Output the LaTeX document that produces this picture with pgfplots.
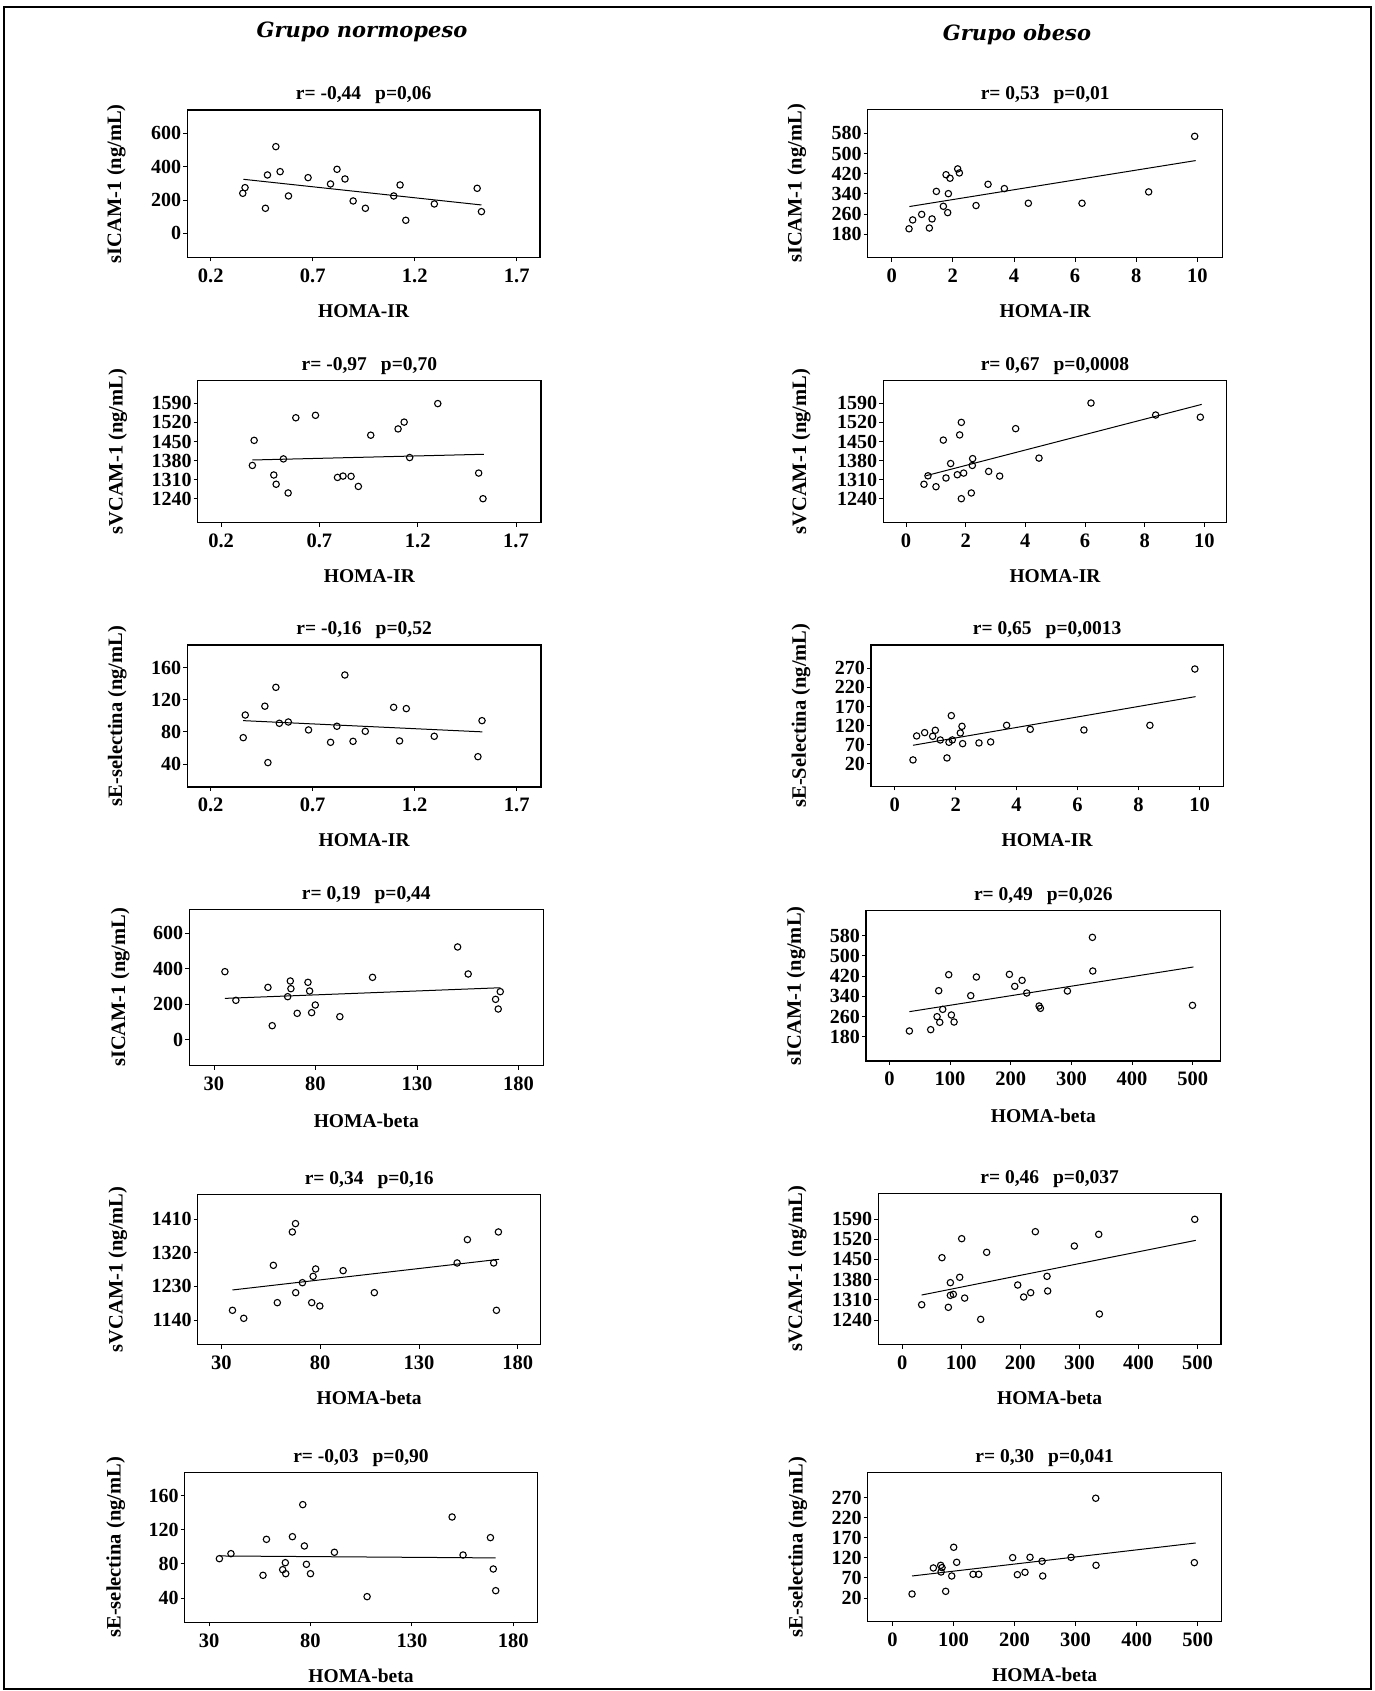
\documentclass[border=0pt]{standalone}
\usepackage{fontspec}
\setmainfont{Liberation Serif}
\newfontfamily\headfont{DejaVu Serif}
\usepackage{pgfplots}
\pgfplotsset{compat=1.18}
\pgfplotsset{
  panel/.style={
    scale only axis, anchor=south west,
    axis line style={line width=1.1pt},
    tick align=outside, xtick pos=bottom, ytick pos=left,
    major tick length=4pt, tick style={line width=0.9pt, black},
    /pgf/number format/assume math mode=true,
    /pgf/number format/1000 sep={},
    tick label style={font=\fontsize{20}{22}\selectfont\bfseries},
    xticklabel style={anchor=base, inner sep=0pt, yshift=-21pt, font=\fontsize{20.5}{22}\selectfont\bfseries},
    yticklabel style={anchor=east, inner sep=0pt, xshift=-2pt},
    title style={font=\fontsize{19.5}{21}\selectfont\bfseries, at={(axis description cs:0.5,1)}, anchor=base, inner sep=0pt, yshift=4pt},
    xlabel style={font=\fontsize{19.5}{21}\selectfont\bfseries, at={(axis description cs:0.5,0)}, anchor=base, inner sep=0pt, yshift=-60pt},
    ylabel style={font=\fontsize{20.5}{22}\selectfont\bfseries, anchor=center, inner sep=0pt},
  },
  yl/.style={ylabel style={at={([xshift=-#1pt]axis description cs:0,0.5)}}},
  pts/.style={only marks, mark=o, mark size=3.2pt, mark options={line width=1.1pt, black}},
  fit/.style={no marks, black, line width=1pt},
}
\newcommand{\rp}[2]{r= #1\hspace{14pt}p=#2}
\begin{document}
\begin{tikzpicture}
\useasboundingbox (0pt,0pt) rectangle (1375pt,1691pt);
\draw[line width=1.5pt] (4pt,2pt) rectangle (1371pt,1684pt);
\node[font=\fontsize{21}{24}\selectfont\headfont\bfseries\itshape] at (362pt,1659pt) {Grupo normopeso};
\node[font=\fontsize{21}{24}\selectfont\headfont\bfseries\itshape] at (1017pt,1656pt) {Grupo obeso};

% P1
\begin{axis}[panel, yl=71, at={(187.3pt,1433.7pt)}, width=352.7pt, height=147.3pt,
  xmin=0.085, xmax=1.814, ymin=-144, ymax=740,
  xtick={0.2,0.7,1.2,1.7}, ytick={0,200,400,600},
  title={\rp{-0,44}{0,06}}, xlabel={HOMA-IR}, ylabel={sICAM-1 (ng/mL)}]
\addplot[pts] coordinates {(0.357,240)(0.368,274)(0.468,150)(0.478,350)(0.519,520)(0.540,370)(0.581,224)(0.677,334)(0.787,296)(0.819,384)(0.858,326)(0.898,194)(0.958,150)(1.097,224)(1.128,290)(1.156,78)(1.296,176)(1.506,270)(1.527,130)};
\addplot[fit] coordinates {(0.36,324)(1.527,170)};
\end{axis}

% P2
\begin{axis}[panel, yl=71, at={(867.7pt,1433.3pt)}, width=355pt, height=148.4pt,
  xmin=-0.785, xmax=10.83, ymin=87.6, ymax=675,
  xtick={0,2,4,6,8,10}, ytick={180,260,340,420,500,580},
  title={\rp{0,53}{0,01}}, xlabel={HOMA-IR}, ylabel={sICAM-1 (ng/mL)}]
\addplot[pts] coordinates {(0.567,202)(0.687,237)(0.981,259)(1.232,205)(1.32,241)(1.461,350)(1.69,291)(1.778,416)(1.832,266)(1.854,341)(1.908,402)(2.159,439)(2.214,423)(2.759,294)(3.152,378)(3.686,361)(4.471,303)(6.227,303)(8.408,348)(9.913,568)};
\addplot[fit] coordinates {(0.578,290)(9.946,472)};
\end{axis}

% P3
\begin{axis}[panel, yl=80, at={(197.7pt,1168.3pt)}, width=343.3pt, height=142pt,
  xmin=0.081, xmax=1.827, ymin=1152, ymax=1673,
  xtick={0.2,0.7,1.2,1.7}, ytick={1240,1310,1380,1450,1520,1590},
  title={\rp{-0,97}{0,70}}, xlabel={HOMA-IR}, ylabel={sVCAM-1 (ng/mL)}]
\addplot[pts] coordinates {(0.359,1362)(0.368,1454)(0.468,1327)(0.480,1293)(0.517,1386)(0.541,1261)(0.580,1537)(0.680,1546)(0.792,1318)(0.820,1323)(0.861,1322)(0.898,1285)(0.961,1473)(1.100,1496)(1.131,1521)(1.159,1391)(1.302,1589)(1.510,1334)(1.532,1240)};
\addplot[fit] coordinates {(0.359,1382)(1.536,1403)};
\end{axis}

% P4
\begin{axis}[panel, yl=82, at={(883.3pt,1168.3pt)}, width=343.4pt, height=142pt,
  xmin=-0.76, xmax=10.75, ymin=1152, ymax=1673,
  xtick={0,2,4,6,8,10}, ytick={1240,1310,1380,1450,1520,1590},
  title={\rp{0,67}{0,0008}}, xlabel={HOMA-IR}, ylabel={sVCAM-1 (ng/mL)}]
\addplot[pts] coordinates {(0.603,1293)(0.737,1324)(1.006,1284)(1.251,1455)(1.341,1316)(1.497,1369)(1.721,1328)(1.799,1474)(1.855,1520)(1.855,1240)(1.933,1334)(2.190,1261)(2.223,1362)(2.235,1387)(2.771,1340)(3.140,1323)(3.676,1497)(4.458,1389)(6.201,1591)(8.369,1547)(9.866,1539)};
\addplot[fit] coordinates {(0.659,1324)(9.911,1586)};
\end{axis}

% P5
\begin{axis}[panel, yl=70, at={(187.3pt,904pt)}, width=353.7pt, height=142pt,
  xmin=0.086, xmax=1.819, ymin=11.3, ymax=188.3,
  xtick={0.2,0.7,1.2,1.7}, ytick={40,80,120,160},
  title={\rp{-0,16}{0,52}}, xlabel={HOMA-IR}, ylabel={sE-selectina (ng/mL)}]
\addplot[pts] coordinates {(0.360,72.8)(0.370,101)(0.466,112)(0.481,41.7)(0.520,135.5)(0.537,90.7)(0.581,92.3)(0.680,82.4)(0.788,67)(0.819,87)(0.858,150.9)(0.898,68.2)(0.958,80.7)(1.097,110.6)(1.126,68.7)(1.159,109)(1.296,74.5)(1.510,49.1)(1.530,94)};
\addplot[fit] coordinates {(0.360,94)(1.532,80)};
\end{axis}

% P6
\begin{axis}[panel, yl=70, at={(871pt,904.7pt)}, width=352.3pt, height=141.3pt,
  xmin=-0.776, xmax=10.78, ymin=-38.4, ymax=331,
  xtick={0,2,4,6,8,10}, ytick={20,70,120,170,220,270},
  title={\rp{0,65}{0,0013}}, xlabel={HOMA-IR}, ylabel={sE-Selectina (ng/mL)}]
\addplot[pts] coordinates {(0.601,30.5)(0.721,93.2)(0.984,101.9)(1.246,92.3)(1.333,108)(1.497,82.7)(1.716,35.7)(1.781,76.6)(1.858,146.3)(1.891,82.7)(2.153,101)(2.208,118.4)(2.23,73.1)(2.765,74.9)(3.148,77.5)(3.672,121)(4.448,110.6)(6.208,108.8)(8.372,121)(9.847,268.2)};
\addplot[fit] coordinates {(0.601,68.8)(9.869,196)};
\end{axis}

% P7
\begin{axis}[panel, yl=69, at={(189.3pt,625.3pt)}, width=354pt, height=156.4pt,
  xmin=17.86, xmax=192.2, ymin=-146.7, ymax=735.5,
  xtick={30,80,130,180}, ytick={0,200,400,600},
  xlabel style={yshift=-2pt},
  title={\rp{0,19}{0,44}}, xlabel={HOMA-beta}, ylabel={sICAM-1 (ng/mL)}]
\addplot[pts] coordinates {(35.4,383.7)(40.8,222)(56.6,295)(58.7,79)(66.3,242.6)(67.6,331)(67.9,287.8)(71.0,148.6)(76.3,323.5)(77.1,274.6)(78.1,152.4)(79.9,195.6)(92.0,129.8)(108.1,351.7)(150.0,523)(155.2,370.6)(168.7,227.6)(170.0,173)(171.0,270.9)};
\addplot[fit] coordinates {(35.4,233)(171.1,293)};
\end{axis}

% P8
\begin{axis}[panel, yl=70, at={(866pt,630pt)}, width=354.7pt, height=150.3pt,
  xmin=-38.5, xmax=546, ymin=83.6, ymax=679,
  xtick={0,100,200,300,400,500}, ytick={180,260,340,420,500,580},
  xlabel style={yshift=-2pt},
  title={\rp{0,49}{0,026}}, xlabel={HOMA-beta}, ylabel={sICAM-1 (ng/mL)}]
\addplot[pts] coordinates {(33,202.4)(68.1,207.7)(78.6,259.2)(81.3,362)(83,236.8)(87.9,288.2)(97.8,425.5)(102.2,265.8)(106.6,238)(134.1,342.4)(143.4,416.3)(197.8,426.8)(206.6,379.3)(218.7,403)(226.4,353)(246.7,301.4)(248.9,292.2)(293.4,360.8)(334.6,573.4)(335.2,440)(499.5,304)};
\addplot[fit] coordinates {(33,279)(501,456)};
\end{axis}

% P9
\begin{axis}[panel, yl=80, at={(197.7pt,346.3pt)}, width=343pt, height=150.4pt,
  xmin=18.0, xmax=191.6, ymin=1073.8, ymax=1477,
  xtick={30,80,130,180}, ytick={1140,1230,1320,1410},
  title={\rp{0,34}{0,16}}, xlabel={HOMA-beta}, ylabel={sVCAM-1 (ng/mL)}]
\addplot[pts] coordinates {(35.6,1166)(41.3,1144.5)(56.3,1286.6)(58.3,1186.5)(65.9,1376)(67.5,1398.4)(67.6,1213.3)(71,1240)(75.7,1186.5)(76.4,1257)(77.7,1276.8)(79.8,1177.5)(91.6,1272.3)(107.4,1213.3)(149.3,1292.9)(154.5,1355.5)(167.8,1292.9)(169.2,1166)(170.2,1376)};
\addplot[fit] coordinates {(35.6,1220.5)(170.5,1302.7)};
\end{axis}

% P10
\begin{axis}[panel, yl=81, at={(878.3pt,346.3pt)}, width=342.7pt, height=151.4pt,
  xmin=-40.7, xmax=540, ymin=1154.5, ymax=1679,
  xtick={0,100,200,300,400,500}, ytick={1240,1310,1380,1450,1520,1590},
  title={\rp{0,46}{0,037}}, xlabel={HOMA-beta}, ylabel={sVCAM-1 (ng/mL)}]
\addplot[pts] coordinates {(32.8,1293)(67.2,1456)(78,1284)(81.4,1369.4)(81.4,1325.5)(86.4,1329)(97.2,1388)(100.6,1521.8)(105.6,1316)(132.8,1242.3)(142.9,1474.5)(195.5,1361.3)(205.6,1319.7)(217.5,1334.7)(225.4,1546)(245.2,1391.3)(246.3,1340.5)(291.5,1496.4)(332.8,1536.8)(333.9,1260.8)(495.5,1588.8)};
\addplot[fit] coordinates {(32.8,1326.6)(497.2,1516)};
\end{axis}

% P11
\begin{axis}[panel, yl=69, at={(184.7pt,68.7pt)}, width=352.6pt, height=150pt,
  xmin=18.0, xmax=191.8, ymin=11.5, ymax=187.4,
  xtick={30,80,130,180}, ytick={40,80,120,160},
  title={\rp{-0,03}{0,90}}, xlabel={HOMA-beta}, ylabel={sE-selectina (ng/mL)}]
\addplot[pts] coordinates {(35.1,86.1)(40.8,92)(56.6,66.6)(58.3,108.8)(66.3,73.2)(67.6,81.4)(67.8,68.5)(71.1,111.9)(76.2,149.5)(77,101)(78,79.5)(80,68.5)(91.8,93.6)(107.9,41.6)(149.8,135)(155.2,90.4)(168.7,110.8)(170.1,74)(171.3,48.6)};
\addplot[fit] coordinates {(35.1,89.3)(171.3,87)};
\end{axis}

% P12
\begin{axis}[panel, yl=70, at={(867.7pt,69.3pt)}, width=354pt, height=149.4pt,
  xmin=-40.4, xmax=539.3, ymin=-39, ymax=333,
  xtick={0,100,200,300,400,500}, ytick={20,70,120,170,220,270},
  title={\rp{0,30}{0,041}}, xlabel={HOMA-beta}, ylabel={sE-selectina (ng/mL)}]
\addplot[pts] coordinates {(32.2,30)(67.1,94.8)(79.1,101.4)(79.7,84.8)(81.3,95.6)(87.3,36.6)(97.2,74.8)(100.4,146.3)(105.3,108.9)(132.1,79)(141.4,79)(197,120.5)(204.7,78.1)(217.2,84)(225.4,121.3)(245.1,111.4)(246.2,74.8)(292.6,121.3)(333,268.4)(333.5,101.4)(494.5,108)};
\addplot[fit] coordinates {(32.2,74.8)(496.7,157)};
\end{axis}
\end{tikzpicture}
\end{document}
